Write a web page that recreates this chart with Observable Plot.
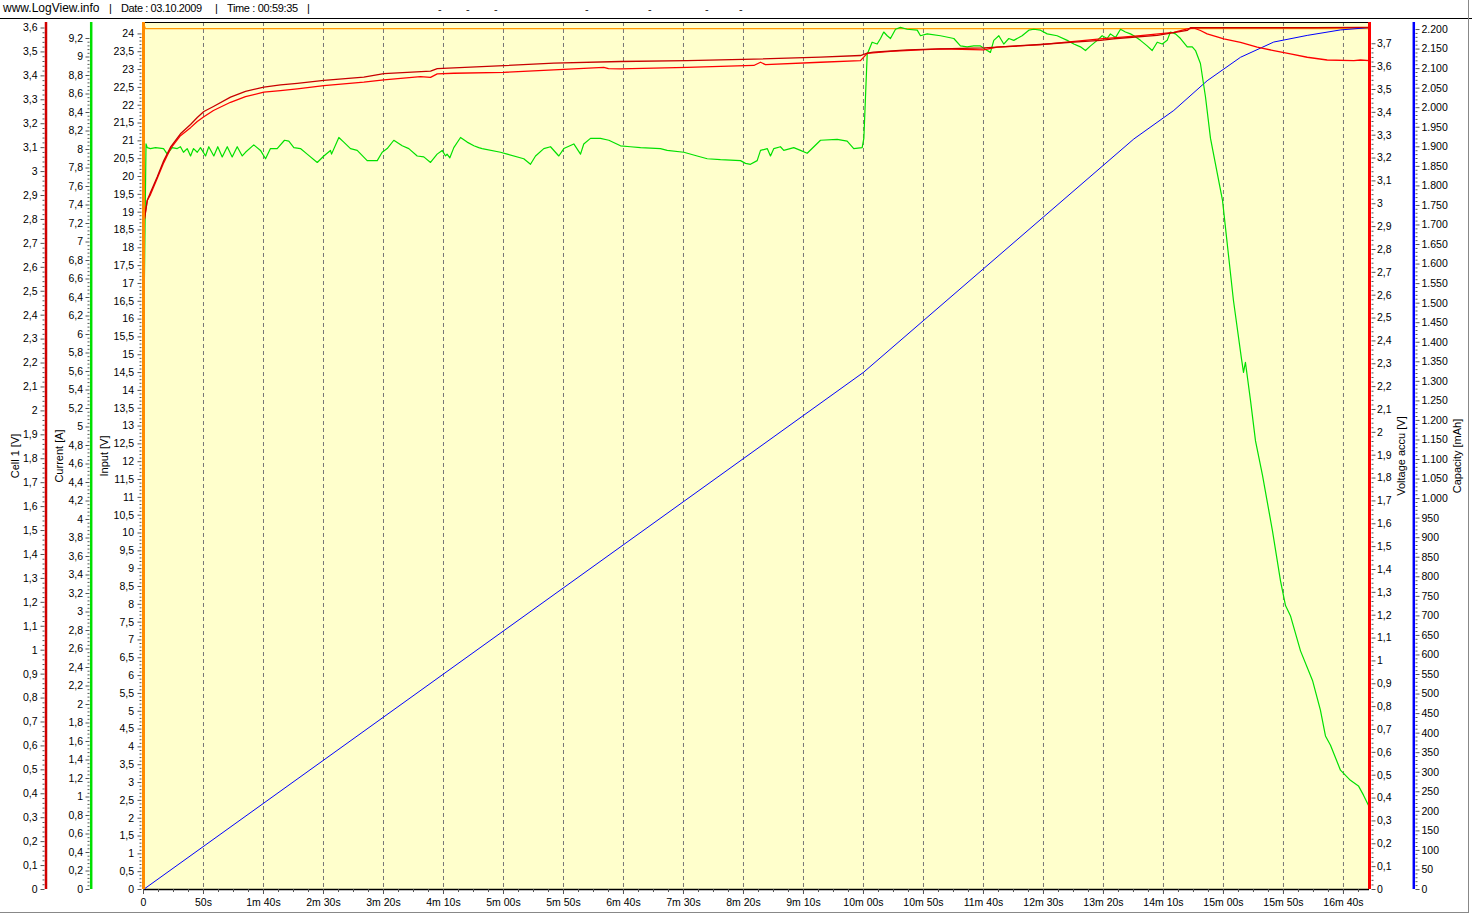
<!DOCTYPE html>
<html><head><meta charset="utf-8">
<script src="https://cdn.jsdelivr.net/npm/d3@7"></script>
<script src="https://cdn.jsdelivr.net/npm/@observablehq/plot@0.6"></script>
<style>
body{margin:0;background:#fff;font-family:"Liberation Sans",Arial,sans-serif;}
#wrap{position:relative;width:1472px;height:915px;overflow:hidden;}
#chart{position:absolute;left:0;top:0;}
#hdr{position:absolute;left:0;top:0;width:1472px;height:18px;border-bottom:1px solid #000;font-size:11px;color:#000;}
#hdr span{position:absolute;top:2px;white-space:pre;}
#hdr span.d{top:3px;font-size:11px;color:#222;}
#border{position:absolute;left:0;top:0;width:1468px;height:912px;border-right:1px solid #888;border-bottom:1px solid #888;pointer-events:none;}
</style></head>
<body>
<div id="wrap">
  <div id="chart"></div>
  <div id="hdr">
    <span style="left:3px;top:1px;font-size:12px">www.LogView.info</span>
    <span style="left:109px">|</span>
    <span style="left:121px;letter-spacing:-0.4px">Date : 03.10.2009</span>
    <span style="left:215px">|</span>
    <span style="left:227px;letter-spacing:-0.35px">Time : 00:59:35</span>
    <span style="left:307px">|</span>
    <span class="d" style="left:438px">-</span>
    <span class="d" style="left:466px">-</span>
    <span class="d" style="left:494px">-</span>
    <span class="d" style="left:585px">-</span>
    <span class="d" style="left:648px">-</span>
    <span class="d" style="left:705px">-</span>
    <span class="d" style="left:739px">-</span>
  </div>
  <div id="border"></div>
</div>
<script>
// ---- data: [time in s, value] ----
const input = [[0,24.3],[1.5,24.15],[1021.7,24.15]];
const current = [[0,5.77],[2.1,8.06],[3.1,8.02],[5.8,8.01],[10,8.02],[16.7,8.01],[19.8,7.95],[23.9,8.02],[28.1,8.01],[30.8,8.03],[33.3,7.97],[36.4,8.01],[39.2,7.93],[41.7,8.01],[44.8,7.97],[47.5,8.02],[51.7,7.93],[54.4,8.03],[58.6,7.93],[61.9,8.03],[65.6,7.92],[69.8,8.03],[73.9,7.92],[78.1,8.03],[82.3,7.93],[85,7.97],[91.9,8.05],[97.5,7.99],[101.7,7.90],[105.8,8.01],[111.4,8.01],[117.5,8.10],[121.1,8.09],[125.3,8.02],[130.8,8.01],[136.4,7.95],[144.8,7.86],[150.3,7.93],[155.8,7.99],[156.7,7.95],[162.8,8.13],[166.9,8.08],[172.5,8.01],[178.1,7.99],[186.4,7.88],[194.8,7.88],[198.9,7.97],[203.1,8.01],[208.6,8.10],[215.6,8.04],[221.1,8.01],[228.1,7.93],[233.6,7.92],[239.2,7.86],[244.7,7.95],[248.9,7.99],[251.7,7.93],[253,7.95],[255.3,7.91],[258.6,8.02],[264.2,8.13],[269.7,8.08],[275.3,8.04],[279.4,8.02],[282.2,8.01],[297.5,7.97],[303.1,7.95],[316.9,7.90],[322.5,7.84],[326.7,7.93],[333.6,8.01],[339.2,8.03],[346.1,7.93],[350.3,8.01],[358.6,8.06],[364.2,7.95],[366.9,8.06],[372.5,8.12],[380.8,8.12],[387.8,8.10],[397.5,8.04],[405.8,8.03],[414.2,8.02],[430.8,8.01],[436.4,7.99],[450.3,7.97],[461.4,7.93],[469.8,7.90],[480.8,7.89],[497.5,7.88],[501.7,7.85],[505.8,7.84],[511.4,7.88],[514.2,7.99],[519.8,8.01],[522.5,7.93],[525.3,8.01],[530.8,8.03],[533.6,7.99],[541.9,8.02],[547.5,7.99],[553.1,7.96],[564.2,8.10],[578.1,8.11],[586.4,8.09],[591.9,8.01],[598.9,8.02],[600.3,8.12],[603.1,9.03],[607.2,9.16],[611.4,9.14],[614.2,9.20],[616.9,9.27],[619.8,9.23],[622.5,9.20],[626.7,9.30],[630.8,9.32],[636.4,9.30],[644.8,9.29],[647.5,9.23],[653.1,9.25],[664.2,9.23],[675.3,9.20],[680.8,9.12],[686.4,9.11],[691.9,9.12],[697.5,9.12],[703.1,9.07],[705.8,9.05],[708.6,9.18],[712.8,9.23],[716.9,9.14],[721.1,9.20],[725.3,9.18],[732.2,9.23],[737.8,9.29],[741.9,9.30],[747.5,9.29],[753.1,9.25],[761.4,9.23],[769.8,9.18],[775.3,9.14],[780.8,9.11],[785,9.07],[789.2,9.12],[794.8,9.18],[798.9,9.23],[803.1,9.20],[805.8,9.25],[810,9.21],[814.2,9.30],[818.3,9.27],[822.5,9.25],[825.3,9.23],[830.8,9.18],[836.4,9.12],[840.6,9.07],[844.8,9.16],[849,9.14],[853.1,9.18],[855.8,9.27],[860,9.25],[864.2,9.20],[869.8,9.11],[874,9.11],[876.7,9.07],[880.8,8.93],[885,8.57],[889.2,8.12],[899.2,7.45],[908.3,6.37],[915,5.74],[916.7,5.59],[918.3,5.70],[922.5,5.29],[926.7,4.85],[932.5,4.48],[940.8,3.88],[947.5,3.34],[951.7,3.07],[955.8,2.96],[964.2,2.58],[974.2,2.26],[980.8,1.94],[985,1.66],[989.2,1.56],[997.5,1.29],[1005.8,1.18],[1012.5,1.12],[1016.7,1.02],[1020.8,0.91]];
const cell1 = [[0,2.775],[3.1,2.879],[5.8,2.913],[11.4,2.977],[16.9,3.046],[22.5,3.102],[30.8,3.158],[39.2,3.197],[44.8,3.226],[50.3,3.251],[58.3,3.272],[72.5,3.311],[85,3.335],[100.3,3.353],[114.2,3.362],[128.1,3.369],[150.3,3.381],[183.6,3.395],[200.3,3.409],[239.2,3.420],[244.8,3.430],[300.3,3.443],[341.9,3.453],[397.5,3.460],[453.1,3.464],[508.6,3.470],[564.2,3.478],[597.5,3.485],[603.1,3.495],[608.3,3.499],[636.4,3.509],[664.2,3.513],[700.3,3.517],[747.5,3.531],[775.3,3.541],[797.5,3.548],[808.6,3.555],[844.8,3.569],[869.8,3.590],[872.5,3.601],[897.5,3.601],[941.7,3.601],[975,3.601],[1014.2,3.603],[1021.7,3.603]];
const accu = [[0,2.905],[3.1,3.014],[5.8,3.040],[11.4,3.110],[16.9,3.180],[22.5,3.241],[30.8,3.298],[39.2,3.333],[44.8,3.360],[50.3,3.381],[58.3,3.408],[72.5,3.444],[85,3.469],[100.3,3.488],[114.2,3.495],[128.1,3.503],[150.3,3.517],[183.6,3.532],[200.3,3.542],[230.8,3.556],[239.2,3.553],[244.8,3.568],[258.6,3.571],[300.3,3.575],[341.9,3.586],[383.6,3.597],[387.5,3.591],[397.5,3.590],[453.1,3.597],[508.6,3.605],[514.2,3.619],[518.3,3.609],[564.2,3.619],[597.5,3.626],[603.1,3.658],[622.5,3.667],[664.2,3.678],[700,3.673],[711.4,3.685],[747.5,3.696],[797.5,3.721],[830.8,3.736],[858.6,3.750],[869.8,3.765],[875.3,3.769],[880.8,3.758],[886.4,3.743],[900.3,3.721],[914.2,3.706],[928.1,3.685],[941.9,3.670],[955.8,3.656],[969.8,3.641],[986.4,3.629],[1008.6,3.626],[1014.2,3.629],[1021.7,3.626]];
const capacity = [[0,0],[600,1323],[825.3,1920],[858.6,1993],[886.4,2069],[914.2,2129],[941.9,2168],[969.8,2185],[997.5,2199],[1021.7,2205]];

// ---- axes ----
const tMax = 1021.7;
const xMajor = d3.range(0, 1001, 50);
const xMinor = d3.range(0, 1021, 12.5);
const cellTicks = d3.range(0, 37).map(i => i / 10);
const currentTicks = d3.range(0, 47).map(i => i / 5);
const inputTicks = d3.range(0, 49).map(i => i / 2);
const accuTicks = d3.range(0, 38).map(i => i / 10);
const capTicks = d3.range(0, 2201, 50);
// value at top edge of the plot frame for each axis
const cellTop = 3.623, curTop = 9.373, inTop = 24.32, accuTop = 3.793, capTop = 2218;

const dec = v => String(Math.round(v * 10) / 10).replace(".", ",");
const capFmt = v => d3.format(",")(Math.round(v)).replace(/,/g, ".");
const tFmt = t => t === 0 ? "0" : t < 60 ? `${t}s` : `${Math.floor(t / 60)}m ${String(t % 60).padStart(2, "0")}s`;
const minorOf = (ticks, n) => d3.merge(ticks.slice(0, -1).map((v, i) => d3.range(1, n).map(k => v + (ticks[i + 1] - v) * k / n)));

function yAxis(ticks, top, fmt, anchor, dx, pad) {
  return [
    Plot.axisY(minorOf(ticks, 5).map(v => v / top), {anchor, dx, tickSize: 2, fill: "none", stroke: "#555", label: null}),
    Plot.axisY(ticks.map(v => v / top), {anchor, dx, tickSize: 4, tickPadding: pad, stroke: "#555", fill: "#000", tickFormat: n => fmt(n * top), label: null})
  ];
}
const title = (t, frameAnchor, dx) => Plot.text([t], {frameAnchor, dx, rotate: -90, textAnchor: "middle", fontSize: 11});

const chart = Plot.plot({
  width: 1472, height: 915,
  marginLeft: 143, marginRight: 103, marginTop: 22, marginBottom: 26,
  style: {fontFamily: '"Liberation Sans", Arial, sans-serif', fontSize: "10.5px", background: "transparent", overflow: "visible"},
  x: {domain: [0, tMax]},
  y: {domain: [0, 1]},
  marks: [
    Plot.frame({fill: "#ffffcc", stroke: "none"}),
    Plot.ruleX(xMajor.filter(t => t > 0), {stroke: "#777", strokeDasharray: "4,3"}),
    Plot.ruleY([1], {stroke: "#000"}),
    Plot.ruleY([0], {stroke: "#000", strokeWidth: 1.5}),
    // series
    Plot.line(input, {x: d => d[0], y: d => d[1] / inTop, stroke: "#ff9900", strokeWidth: 1.3}),
    Plot.line(capacity, {x: d => d[0], y: d => d[1] / capTop, stroke: "#0000ff", strokeWidth: 1}),
    Plot.line(current, {x: d => d[0], y: d => d[1] / curTop, stroke: "#00e000", strokeWidth: 1.2}),
    Plot.line(accu, {x: d => d[0], y: d => d[1] / accuTop, stroke: "#ff0000", strokeWidth: 1.3}),
    Plot.line(cell1, {x: d => d[0], y: d => d[1] / cellTop, stroke: "#c80000", strokeWidth: 1.3}),
    // axis lines
    Plot.ruleX([0], {dx: -97.5, stroke: "#d00000", strokeWidth: 2.5}),
    Plot.ruleX([0], {dx: -52.3, stroke: "#00e000", strokeWidth: 2.5}),
    Plot.ruleX([0], {stroke: "#ff8c00", strokeWidth: 3}),
    Plot.ruleX([tMax], {stroke: "#ff0000", strokeWidth: 3}),
    Plot.ruleX([tMax], {dx: 44.3, stroke: "#0000ff", strokeWidth: 2.5}),
    // y axes
    ...yAxis(cellTicks, cellTop, dec, "left", -98.5, 3.5),
    ...yAxis(currentTicks, curTop, dec, "left", -53.5, 3),
    ...yAxis(inputTicks, inTop, dec, "left", -1.5, 4),
    ...yAxis(accuTicks, accuTop, dec, "right", 1.5, 2),
    ...yAxis(capTicks, capTop, capFmt, "right", 45.5, 2.5),
    // x axis
    Plot.axisX(xMinor, {tickSize: 3, fill: "none", stroke: "#555", label: null}),
    Plot.axisX(xMajor, {tickSize: 5, tickPadding: 4, stroke: "#555", fill: "#000", tickFormat: tFmt, label: null}),
    // axis titles
    title("Cell 1 [V]", "left", -128),
    title("Current [A]", "left", -84),
    title("Input [V]", "left", -39),
    title("Voltage accu [V]", "right", 32),
    title("Capacity [mAh]", "right", 88)
  ]
});
document.getElementById("chart").appendChild(chart);
</script>
</body></html>
